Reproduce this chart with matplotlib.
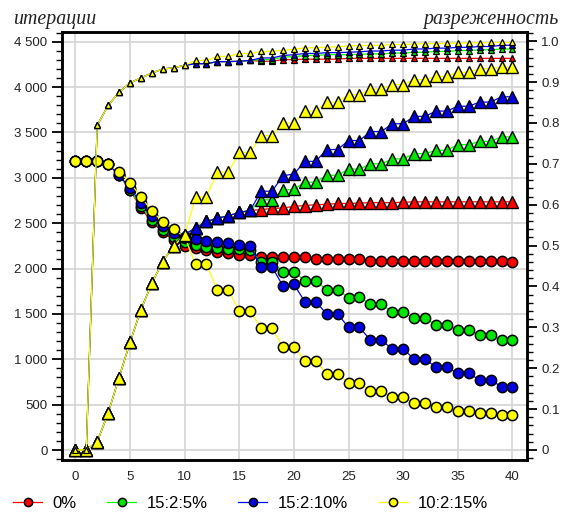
import matplotlib
matplotlib.use('Agg')
import matplotlib.pyplot as plt
from matplotlib.ticker import MultipleLocator, FuncFormatter

# шаг (итерация алгоритма)
steps = list(range(41))

# число итераций (круги, левая ось)
red_iter = [3190, 3190, 3190, 3150, 3030, 2865, 2667, 2512, 2403, 2314,
            2250, 2230, 2200, 2178, 2170, 2150, 2150, 2130, 2125, 2123,
            2123, 2123, 2105, 2105, 2105, 2105, 2105, 2087, 2087, 2087,
            2087, 2087, 2087, 2087, 2087, 2087, 2087, 2087, 2087, 2087,
            2072]
green_iter = [3190, 3190, 3190, 3150, 3030, 2870, 2689, 2535, 2425, 2344,
              2290, 2265, 2235, 2230, 2220, 2210, 2200, 2075, 2075, 1965,
              1965, 1866, 1866, 1763, 1763, 1679, 1690, 1605, 1605, 1524,
              1524, 1451, 1451, 1378, 1378, 1322, 1322, 1267, 1267, 1212,
              1212]
blue_iter = [3190, 3190, 3190, 3150, 3030, 2884, 2725, 2579, 2469, 2391,
             2340, 2330, 2307, 2296, 2277, 2263, 2248, 2017, 2017, 1807,
             1826, 1635, 1635, 1499, 1499, 1352, 1352, 1212, 1212, 1113,
             1113, 1003, 1003, 911, 911, 845, 845, 771, 771, 698,
             698]
yellow_iter = [3190, 3190, 3190, 3152, 3067, 2946, 2792, 2634, 2516, 2432,
               2350, 2046, 2046, 1763, 1763, 1535, 1535, 1341, 1341, 1139,
               1139, 984, 984, 838, 838, 742, 742, 654, 654, 588,
               588, 514, 514, 470, 470, 430, 430, 404, 404, 386,
               386]

# разреженность (большие треугольники, правая ось)
red_sp = [0, 0, 0.020, 0.090, 0.177, 0.263, 0.343, 0.408, 0.461, 0.500,
          0.527, 0.543, 0.559, 0.567, 0.573, 0.581, 0.586, 0.588, 0.591, 0.592,
          0.596, 0.598, 0.600, 0.601, 0.603, 0.603, 0.604, 0.605, 0.605, 0.605,
          0.606, 0.607, 0.607, 0.607, 0.607, 0.607, 0.607, 0.607, 0.607, 0.607,
          0.607]
green_sp = [0, 0, 0.020, 0.090, 0.177, 0.263, 0.343, 0.408, 0.461, 0.500,
            0.527, 0.543, 0.559, 0.567, 0.573, 0.581, 0.586, 0.612, 0.612, 0.635,
            0.638, 0.655, 0.655, 0.672, 0.672, 0.687, 0.687, 0.700, 0.700, 0.712,
            0.712, 0.725, 0.725, 0.733, 0.733, 0.747, 0.747, 0.755, 0.755, 0.766,
            0.766]
blue_sp = [0, 0, 0.020, 0.090, 0.177, 0.263, 0.343, 0.408, 0.461, 0.500,
           0.527, 0.543, 0.559, 0.567, 0.573, 0.581, 0.586, 0.633, 0.633, 0.671,
           0.675, 0.706, 0.706, 0.735, 0.735, 0.757, 0.757, 0.779, 0.779, 0.798,
           0.798, 0.816, 0.816, 0.829, 0.829, 0.841, 0.841, 0.851, 0.851, 0.864,
           0.864]
yellow_sp = [0, 0, 0.020, 0.090, 0.177, 0.263, 0.343, 0.408, 0.461, 0.500,
             0.525, 0.618, 0.620, 0.680, 0.680, 0.728, 0.728, 0.769, 0.769, 0.800,
             0.800, 0.829, 0.829, 0.851, 0.851, 0.869, 0.869, 0.883, 0.883, 0.894,
             0.894, 0.906, 0.906, 0.914, 0.914, 0.924, 0.924, 0.933, 0.933, 0.936,
             0.936]

# разреженность (малые треугольники, правая ось)
red_sm = [0, 0, 0.794, 0.843, 0.875, 0.898, 0.910, 0.922, 0.932, 0.935,
          0.941, 0.945, 0.945, 0.950, 0.950, 0.951, 0.953, 0.951, 0.951, 0.955,
          0.955, 0.956, 0.956, 0.956, 0.956, 0.958, 0.958, 0.958, 0.958, 0.958,
          0.958, 0.958, 0.958, 0.958, 0.958, 0.958, 0.958, 0.958, 0.958, 0.958,
          0.958]
green_sm = [0, 0, 0.794, 0.843, 0.875, 0.898, 0.910, 0.922, 0.932, 0.935,
            0.941, 0.945, 0.945, 0.950, 0.950, 0.951, 0.953, 0.955, 0.955, 0.961,
            0.962, 0.965, 0.965, 0.967, 0.967, 0.967, 0.968, 0.969, 0.969, 0.971,
            0.971, 0.973, 0.973, 0.975, 0.975, 0.977, 0.977, 0.979, 0.979, 0.981,
            0.981]
blue_sm = [0, 0, 0.794, 0.843, 0.875, 0.898, 0.910, 0.922, 0.932, 0.935,
           0.941, 0.945, 0.945, 0.950, 0.950, 0.951, 0.953, 0.959, 0.959, 0.965,
           0.967, 0.970, 0.970, 0.972, 0.972, 0.973, 0.974, 0.976, 0.976, 0.978,
           0.978, 0.981, 0.981, 0.983, 0.983, 0.985, 0.985, 0.987, 0.987, 0.990,
           0.990]
yellow_sm = [0, 0, 0.794, 0.843, 0.875, 0.898, 0.910, 0.922, 0.932, 0.935,
             0.941, 0.953, 0.953, 0.963, 0.963, 0.970, 0.970, 0.975, 0.975, 0.978,
             0.980, 0.984, 0.984, 0.986, 0.986, 0.989, 0.989, 0.990, 0.990, 0.992,
             0.992, 0.993, 0.994, 0.994, 0.995, 0.995, 0.996, 0.996, 0.997, 0.997,
             0.997]

labels = ['0%', '15:2:5%', '15:2:10%', '10:2:15%']
line_colors = ['#ff0000', '#00ff00', '#0000ff', '#ffff00']
face_colors = ['#ff0000', '#00e600', '#0000e0', '#ffff00']

iters = [red_iter, green_iter, blue_iter, yellow_iter]
sparse_big = [red_sp, green_sp, blue_sp, yellow_sp]
sparse_small = [red_sm, green_sm, blue_sm, yellow_sm]

plt.rcParams['font.family'] = ['Liberation Sans', 'DejaVu Sans']

fig = plt.figure(figsize=(5.65, 5.14), dpi=100)
ax = fig.add_axes([62 / 565, 1 - 460 / 514, (526.7 - 62) / 565, (460 - 32) / 514])
ax2 = ax.twinx()

handles = []
for it, lc, fc, lab in zip(iters, line_colors, face_colors, labels):
    h, = ax.plot(steps, it, color=lc, lw=0.9, marker='o', ms=7.4,
                 mfc=fc, mec='black', mew=1.1, label=lab)
    handles.append(h)

for sp, sm, lc, fc in zip(sparse_big, sparse_small, line_colors, face_colors):
    ax2.plot(steps, sp, color=lc, lw=0.9, marker='^', ms=8.7,
             mfc=fc, mec='black', mew=1.0)
    ax2.plot(steps, sm, color=lc, lw=0.9, marker='^', ms=5,
             mfc=fc, mec='black', mew=0.9)

ax.set_xlim(-1.22, 41.3)
ax.set_ylim(-110, 4607)
ax2.set_ylim(-0.0245, 1.0225)

ax.xaxis.set_major_locator(MultipleLocator(5))
ax.yaxis.set_major_locator(MultipleLocator(500))
ax.yaxis.set_minor_locator(MultipleLocator(100))
ax2.yaxis.set_major_locator(MultipleLocator(0.1))
ax2.yaxis.set_minor_locator(MultipleLocator(0.02))

ax.yaxis.set_major_formatter(FuncFormatter(lambda v, p: f'{v:,.0f}'.replace(',', ' ')))
ax2.yaxis.set_major_formatter(FuncFormatter(lambda v, p: '0' if abs(v) < 1e-9 else f'{v:.1f}'))

ax.grid(True, color='#d4d4d4', lw=1.2)
ax.set_axisbelow(True)

for a in (ax, ax2):
    for s in a.spines.values():
        s.set_linewidth(1.8)
    a.tick_params(which='major', direction='out', length=7, width=1.3,
                  labelsize=9.5, labelcolor='#222222', pad=3.5)
    a.tick_params(which='minor', direction='out', length=4.3, width=1.0)
ax.tick_params(axis='x', length=0, pad=8)

fig.text(13 / 565, 1 - 24 / 514, 'итерации', family='Liberation Serif',
         style='italic', fontsize=14.3, color='#222222', ha='left', va='baseline')
fig.text(558 / 565, 1 - 24 / 514, 'разреженность', family='Liberation Serif',
         style='italic', fontsize=14.3, color='#222222', ha='right', va='baseline')

fig.legend(handles=handles, loc='center left', bbox_to_anchor=(13 / 565, 1 - 503 / 514),
           ncol=4, frameon=False, fontsize=12, handlelength=1.75,
           handletextpad=0.6, columnspacing=1.85, borderpad=0, borderaxespad=0,
           markerscale=0.8)

fig.savefig('out.png', dpi=100)
